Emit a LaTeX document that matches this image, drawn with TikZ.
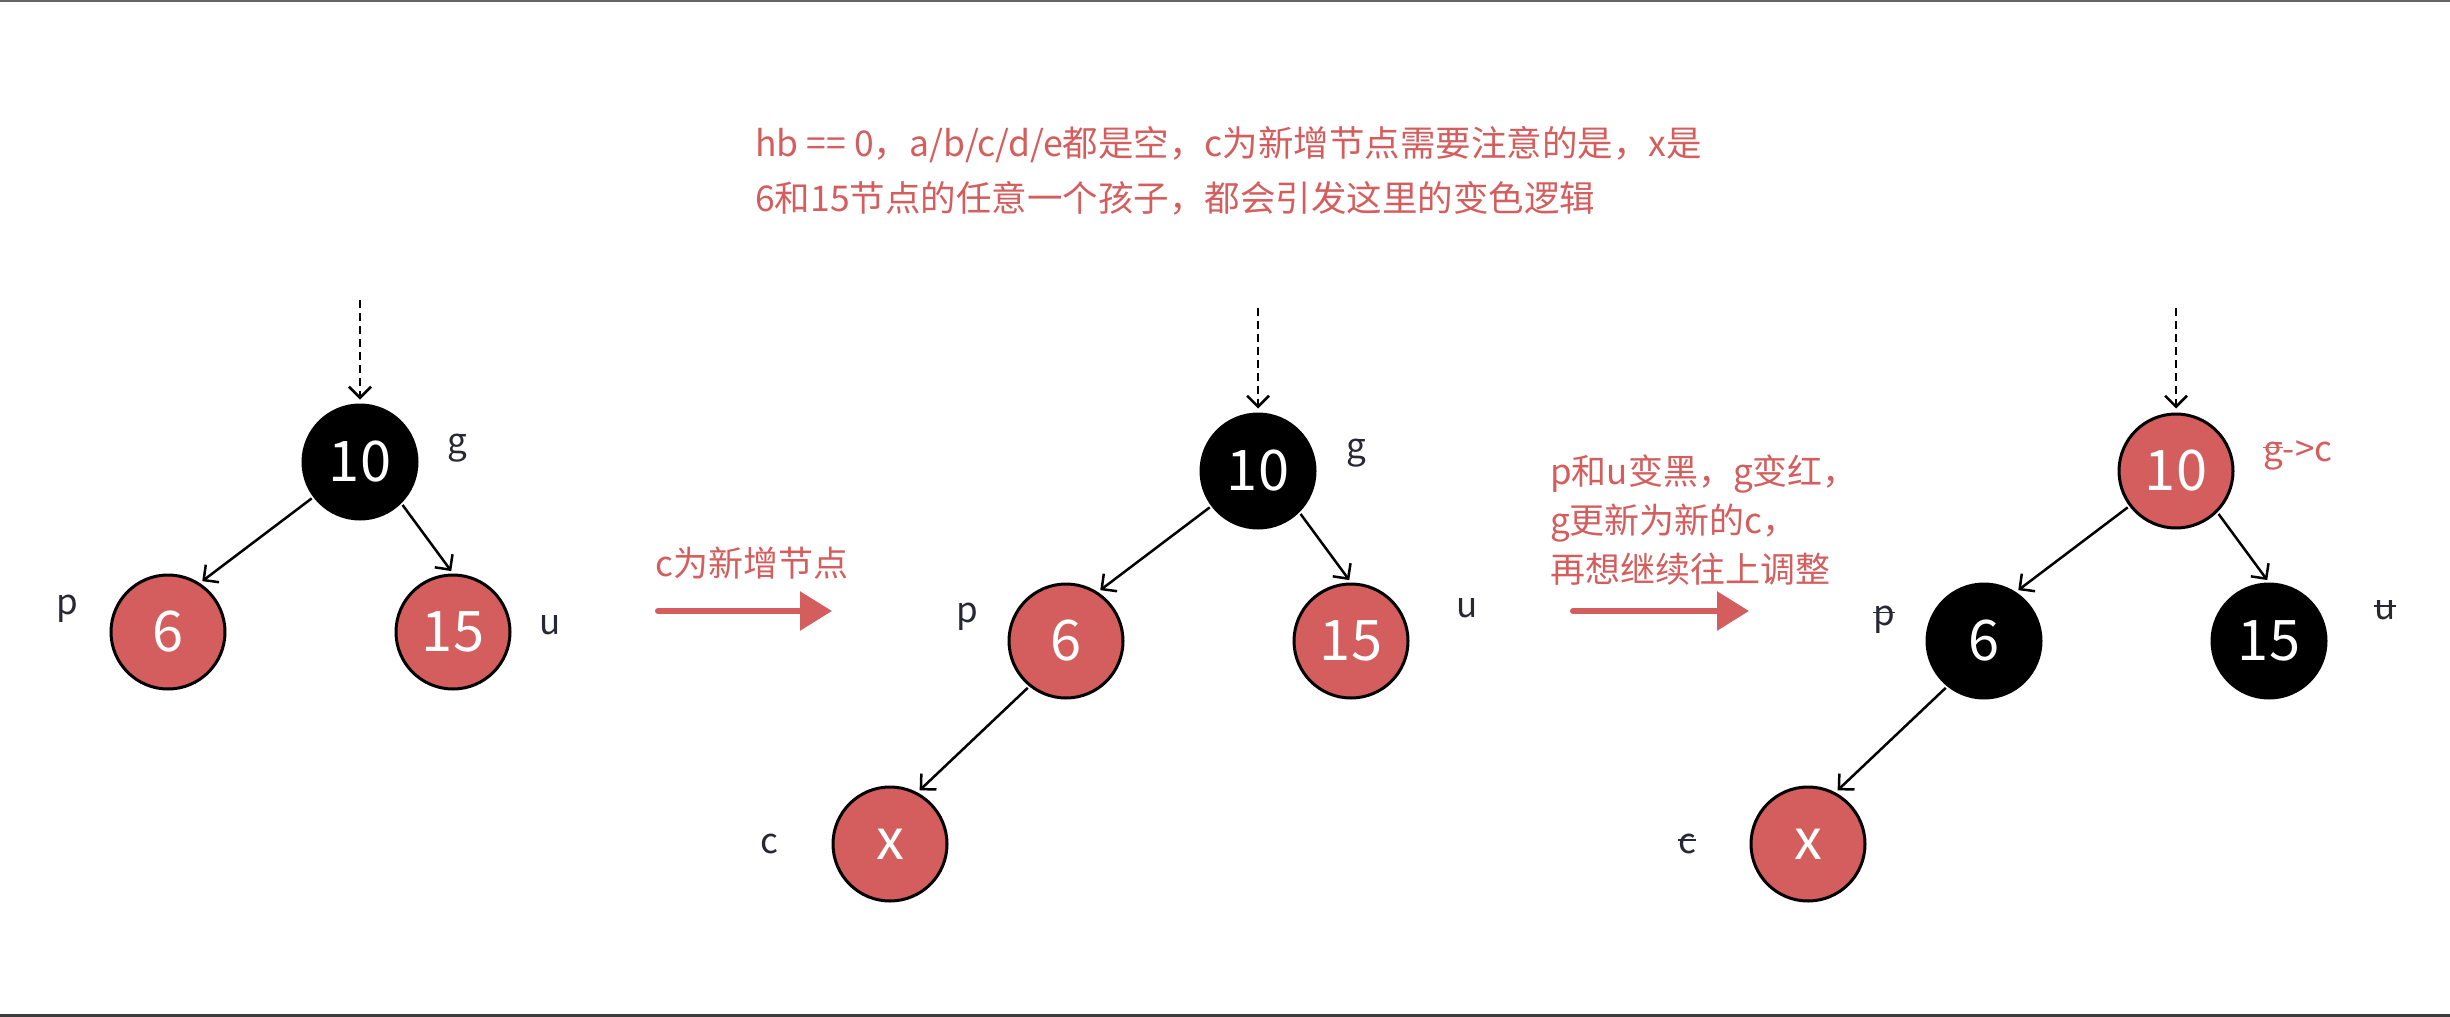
\documentclass[tikz,border=0pt]{standalone}
\usepackage{fontspec}
\setmainfont{Noto Sans CJK SC}
\usetikzlibrary{arrows.meta}
\definecolor{rd}{RGB}{212,94,94}
\definecolor{lbl}{RGB}{40,40,52}
\newsavebox\strkbox
\newcommand\strk[1]{\sbox\strkbox{#1}\rlap{\rule[0.36em]{\wd\strkbox}{1.6pt}}\usebox\strkbox}
\tikzset{
  rbnode/.style={circle, draw=black, line width=3pt, minimum size=114pt, inner sep=0pt,
    font=\fontsize{56}{60}\selectfont, text=white},
  rednode/.style={rbnode, fill=rd},
  blknode/.style={rbnode, fill=black},
  edge/.style={line width=2.5pt, shorten >=3pt, shorten <=2pt,
    -{Straight Barb[length=11pt,width=22pt,line width=2.5pt]}},
  dasharr/.style={line width=2.5pt, dash pattern=on 8pt off 5pt, shorten >=4pt,
    -{Straight Barb[length=11pt,width=22pt,line width=2.5pt]}},
  tag/.style={font=\fontsize{35}{40}\selectfont, text=lbl, inner sep=0pt},
  note/.style={font=\fontsize{35}{55}\selectfont, text=rd, align=left, inner sep=0pt},
  bigarrow/.style={draw=rd, line width=6pt, line cap=round,
    -{Triangle[length=32pt,width=38pt,fill=rd]}}
}
\begin{document}
\begin{tikzpicture}[x=1pt,y=-1pt]
\useasboundingbox (0,0) rectangle (2450,1017);
\draw[draw={rgb,255:red,100;green,100;blue,100}, line width=2pt] (0,1) -- (2450,1);
\draw[draw={rgb,255:red,60;green,60;blue,60}, line width=3pt] (0,1015.5) -- (2450,1015.5);

% top note
\node[note, anchor=north west, font=\fontsize{35.5}{55}\selectfont] (topnote) at (755,126)
  {hb == 0，a/b/c/d/e都是空，c为新增节点需要注意的是，x是\\6和15节点的任意一个孩子，都会引发这里的变色逻辑};

% tree 1
\node[blknode] (g1) at (360,462) {10};
\node[rednode] (p1) at (168,632) {6};
\node[rednode] (u1) at (453,632) {15};
\coordinate (s1) at (360,300);
\draw[dasharr] (s1) -- (g1.north);
\draw[edge] (g1.217) -- (p1.57);
\draw[edge] (g1.-45) -- (u1.north);
\node[tag] (tg1) at (457,448) {g};
\node[tag] (tp1) at (67,609) {p};
\node[tag] (tu1) at (550,625) {u};

% arrow 1
\node[note, anchor=west] (n1) at (655,563) {c为新增节点};
\coordinate (a1s) at (658,611);
\coordinate (a1e) at (832,611);
\draw[bigarrow] (a1s) -- (a1e);

% tree 2
\node[blknode] (g2) at (1258,471) {10};
\node[rednode] (p2) at (1066,641) {6};
\node[rednode] (u2) at (1351,641) {15};
\node[rednode] (x2) at (890,844) {x};
\coordinate (s2) at (1258,308);
\draw[dasharr] (s2) -- (g2.north);
\draw[edge] (g2.217) -- (p2.57);
\draw[edge] (g2.-45) -- (u2.north);
\draw[edge] (p2.231) -- (x2.62);
\node[tag] (tg2) at (1356,453) {g};
\node[tag] (tp2) at (967,617) {p};
\node[tag] (tu2) at (1467,608) {u};
\node[tag] (tc2) at (769,844) {c};

% arrow 2
\node[note, anchor=north west] (n2) at (1550,455) {p和u变黑，g变红，\\[-6pt]g更新为新的c，\\[-6pt]再想继续往上调整};
\coordinate (a2s) at (1573,611);
\coordinate (a2e) at (1749,611);
\draw[bigarrow] (a2s) -- (a2e);

% tree 3
\node[rednode] (g3) at (2176,471) {10};
\node[blknode] (p3) at (1984,641) {6};
\node[blknode] (u3) at (2269,641) {15};
\node[rednode] (x3) at (1808,844) {x};
\coordinate (s3) at (2176,308);
\draw[dasharr] (s3) -- (g3.north);
\draw[edge] (g3.217) -- (p3.57);
\draw[edge] (g3.-45) -- (u3.north);
\draw[edge] (p3.231) -- (x3.62);
\node[tag, text=rd, anchor=west] (tg3) at (2263,455) {\strk{g}->c};
\node[tag] (tp3) at (1884,620) {\strk{p}};
\node[tag] (tu3) at (2385,610) {\strk{u}};
\node[tag] (tc3) at (1687,844) {\strk{c}};
\end{tikzpicture}
\end{document}
